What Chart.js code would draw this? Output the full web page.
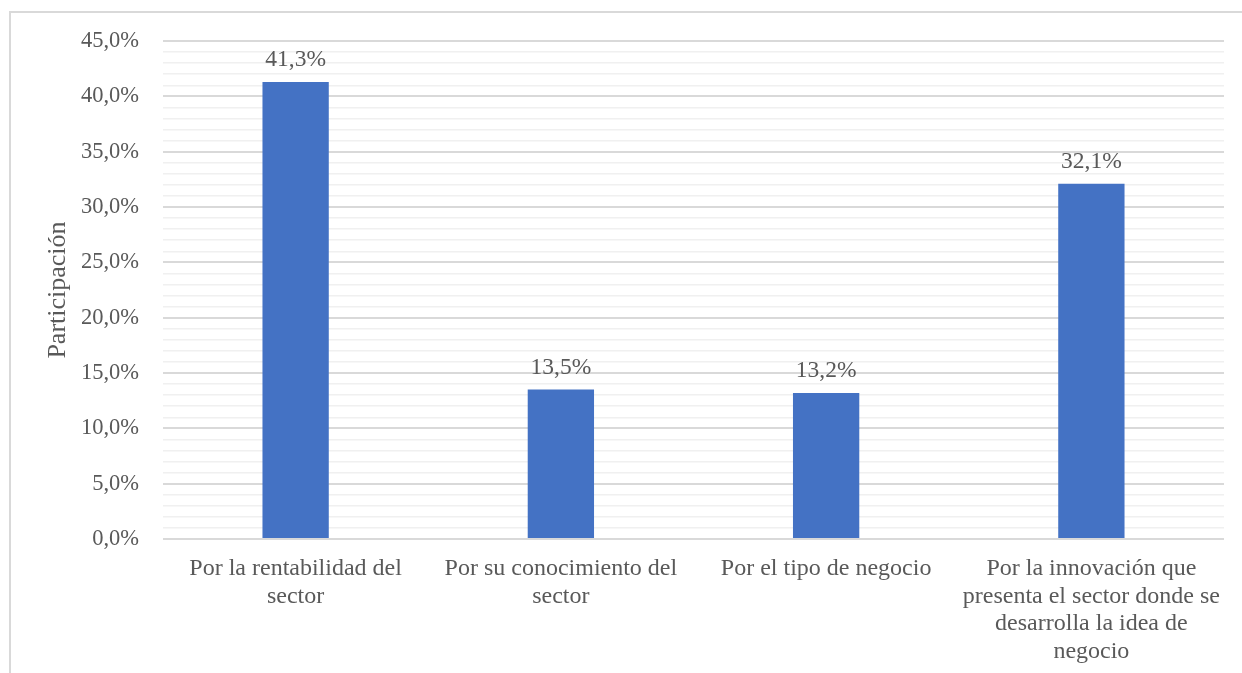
<!DOCTYPE html>
<html>
<head>
<meta charset="utf-8">
<script src="https://cdn.jsdelivr.net/npm/chart.js@4/dist/chart.umd.min.js"></script>
<style>
  html, body { margin: 0; padding: 0; background: #fff; overflow: hidden; }
  #marco { position: absolute; left: 9px; top: 11px; width: 1260px; height: 700px; border: 2px solid #d9d9d9; }
  #wrap { position: absolute; left: 0; top: 0; width: 1242px; height: 673px; }
</style>
</head>
<body>
<div id="marco"></div>
<div id="wrap"><canvas id="grafico"></canvas></div>
<script>
// Datos
const categorias = [
  ["Por la rentabilidad del", "sector"],
  ["Por su conocimiento del", "sector"],
  "Por el tipo de negocio",
  ["Por la innovación que", "presenta el sector donde se", "desarrolla la idea de", "negocio"]
];
const participacion = [41.3, 13.5, 13.2, 32.1];
const ejeMin = 0;
const ejeMax = 45;
const pasoMayor = 5;

const fmt = v => v.toFixed(1).replace('.', ',') + '%';
const fuente = "'Liberation Serif', 'Times New Roman', serif";
const gris = '#595959';

// etiquetas encima de las barras
const etiquetas = {
  id: 'etiquetas',
  afterDatasetsDraw(chart) {
    const ctx = chart.ctx;
    const meta = chart.getDatasetMeta(0);
    ctx.save();
    ctx.font = '23.5px ' + fuente;
    ctx.fillStyle = gris;
    ctx.textAlign = 'center';
    ctx.textBaseline = 'alphabetic';
    meta.data.forEach((bar, i) => {
      ctx.fillText(fmt(participacion[i]), bar.x, bar.y - 16);
    });
    ctx.restore();
  }
};

new Chart(document.getElementById('grafico'), {
  type: 'bar',
  data: {
    labels: categorias,
    datasets: [{
      data: participacion,
      backgroundColor: '#4472c4',
      categoryPercentage: 1,
      barPercentage: 0.25
    }]
  },
  options: {
    responsive: true,
    maintainAspectRatio: false,
    animation: false,
    layout: { padding: { left: 43, top: 41, right: 18, bottom: 0 } },
    plugins: { legend: { display: false }, tooltip: { enabled: false } },
    scales: {
      x: {
        grid: { display: false },
        border: { display: false },
        ticks: {
          color: gris,
          font: { family: fuente, size: 24, lineHeight: 1.15 },
          padding: 8,
          maxRotation: 0,
          autoSkip: false
        },
        afterFit(scale) { scale.height = 673 - 539; }
      },
      y: {
        min: ejeMin,
        max: ejeMax,
        border: { display: false },
        grid: {
          drawTicks: false,
          color: c => (c.tick && c.tick.value % pasoMayor === 0) ? '#d9d9d9' : '#f0f0f0',
          lineWidth: c => (c.tick && c.tick.value % pasoMayor === 0) ? 2 : 1.5
        },
        ticks: {
          stepSize: 1,
          autoSkip: false,
          padding: 24,
          color: gris,
          font: { family: fuente, size: 22.5 },
          callback: v => v % pasoMayor === 0 ? fmt(v) : ''
        },
        title: {
          display: true,
          text: 'Participación',
          color: gris,
          font: { family: fuente, size: 26 },
          padding: { top: 0, bottom: 0 }
        },
        afterFit(scale) { scale.width = 163 - 43; }
      }
    }
  },
  plugins: [etiquetas]
});
</script>
</body>
</html>
